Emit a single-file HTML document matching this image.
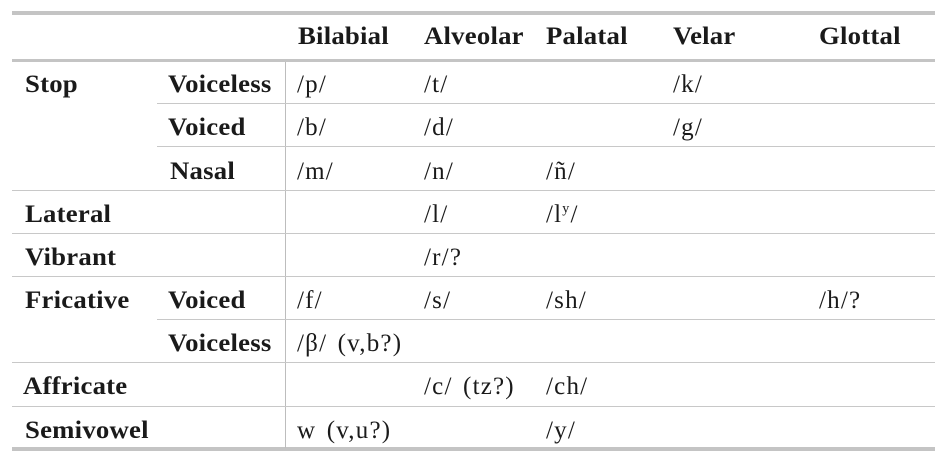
<!DOCTYPE html>
<html><head><style>
body{margin:0;width:948px;height:461px;background:#fff;position:relative;overflow:hidden;font-family:"Liberation Serif",serif;color:#1a1a1a;}
.l{position:absolute;background:#c8c8c8;}
.t{position:absolute;font-size:25px;line-height:26px;white-space:nowrap;letter-spacing:1.2px;margin-top:2px;word-spacing:3px;}
.b{font-weight:bold;letter-spacing:0.2px;word-spacing:0;transform:scaleX(1.07);transform-origin:left center;}
</style></head><body>
<div class="l" style="left:12px;top:11px;width:923px;height:4px;background:#c4c4c4"></div>
<div class="l" style="left:12px;top:59px;width:923px;height:3px;background:#c4c4c4"></div>
<div class="l" style="left:12px;top:447px;width:923px;height:4px;background:#c4c4c4"></div>
<div class="l" style="left:285px;top:62px;width:1px;height:386px;background:#bdbdbd"></div>
<div class="l" style="left:157px;top:103px;width:778px;height:1px"></div>
<div class="l" style="left:157px;top:146px;width:778px;height:1px"></div>
<div class="l" style="left:12px;top:190px;width:923px;height:1px"></div>
<div class="l" style="left:12px;top:233px;width:923px;height:1px"></div>
<div class="l" style="left:12px;top:276px;width:923px;height:1px"></div>
<div class="l" style="left:157px;top:319px;width:778px;height:1px"></div>
<div class="l" style="left:12px;top:362px;width:923px;height:1px"></div>
<div class="l" style="left:12px;top:406px;width:923px;height:1px"></div>

<div class="t b" style="left:298px;top:22px">Bilabial</div>
<div class="t b" style="left:424px;top:22px">Alveolar</div>
<div class="t b" style="left:546px;top:22px">Palatal</div>
<div class="t b" style="left:673px;top:22px">Velar</div>
<div class="t b" style="left:819px;top:22px">Glottal</div>

<div class="t b" style="left:25px;top:70px">Stop</div>
<div class="t b" style="left:168px;top:70px">Voiceless</div>
<div class="t" style="left:297px;top:70px">/p/</div>
<div class="t" style="left:424px;top:70px">/t/</div>
<div class="t" style="left:673px;top:70px">/k/</div>

<div class="t b" style="left:168px;top:113px">Voiced</div>
<div class="t" style="left:297px;top:113px">/b/</div>
<div class="t" style="left:424px;top:113px">/d/</div>
<div class="t" style="left:673px;top:113px">/g/</div>

<div class="t b" style="left:170px;top:157px">Nasal</div>
<div class="t" style="left:297px;top:157px">/m/</div>
<div class="t" style="left:424px;top:157px">/n/</div>
<div class="t" style="left:546px;top:157px">/ñ/</div>

<div class="t b" style="left:25px;top:200px">Lateral</div>
<div class="t" style="left:424px;top:200px">/l/</div>
<div class="t" style="left:546px;top:200px">/l<sup style="font-size:14px;line-height:0">y</sup>/</div>

<div class="t b" style="left:25px;top:243px">Vibrant</div>
<div class="t" style="left:424px;top:243px">/r/?</div>

<div class="t b" style="left:25px;top:286px">Fricative</div>
<div class="t b" style="left:168px;top:286px">Voiced</div>
<div class="t" style="left:297px;top:286px">/f/</div>
<div class="t" style="left:424px;top:286px">/s/</div>
<div class="t" style="left:546px;top:286px">/sh/</div>
<div class="t" style="left:819px;top:286px">/h/?</div>

<div class="t b" style="left:168px;top:329px">Voiceless</div>
<div class="t" style="left:297px;top:329px">/β/ (v,b?)</div>

<div class="t b" style="left:23px;top:372px">Affricate</div>
<div class="t" style="left:424px;top:372px">/c/ (tz?)</div>
<div class="t" style="left:546px;top:372px">/ch/</div>

<div class="t b" style="left:25px;top:416px">Semivowel</div>
<div class="t" style="left:297px;top:416px">w (v,u?)</div>
<div class="t" style="left:546px;top:416px">/y/</div>
</body></html>
